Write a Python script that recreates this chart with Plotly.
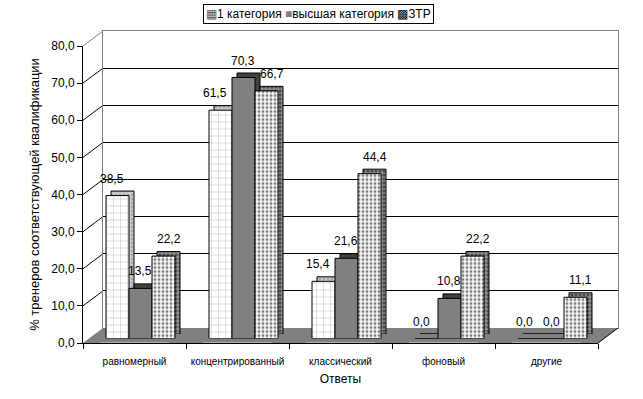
import plotly.graph_objects as go

categories = ["равномерный", "концентрированный", "классический", "фоновый", "другие"]
series_names = ["1 категория", "высшая категория", "ЗТР"]
cat1 = [38.5, 61.5, 15.4, 0.0, 0.0]
cat_high = [13.5, 70.3, 21.6, 10.8, 0.0]
ztr = [22.2, 66.7, 44.4, 22.2, 11.1]
series_values = [cat1, cat_high, ztr]
y_ticks = [0, 10, 20, 30, 40, 50, 60, 70, 80]

W, H = 643, 399
FONT = "Liberation Sans, Arial, sans-serif"

def fx(px):
    return px / W

def fy(py):
    return 1 - py / H

# front frame (px)
X0, X1, YB, YT = 83, 598, 343, 46
WDX, WDY = 20, 15          # wall depth offset
BDX, BDY = 6, 4.5          # bar front offset
DDX, DDY = 5, 4.5          # bar depth offset
YMAX = 80
BARGAP = 0.33

def dom(dx, dy):
    return dict(x=[fx(X0 + dx), fx(X1 + dx)], y=[fy(YB - dy), fy(YT - dy)])

front_styles = [
    dict(color="white", line=dict(color="black", width=1),
         pattern=dict(shape="+", fgcolor="#6a6a6a", bgcolor="white", size=7, solidity=0.12)),
    dict(color="#808080", line=dict(color="black", width=1)),
    dict(color="white", line=dict(color="black", width=1),
         pattern=dict(shape=".", fgcolor="black", bgcolor="white", size=4, solidity=0.45)),
]
depth_styles = [
    dict(color="#c0c0c0", line=dict(color="black", width=1),
         pattern=dict(shape=".", fgcolor="#808080", bgcolor="#c8c8c8", size=4, solidity=0.25)),
    dict(color="#404040", line=dict(color="black", width=1)),
    dict(color="#808080", line=dict(color="black", width=1),
         pattern=dict(shape=".", fgcolor="black", bgcolor="#909090", size=4, solidity=0.45)),
]

fig = go.Figure()

fig.add_trace(go.Bar(x=categories, y=[0] * len(categories), xaxis="x", yaxis="y",
                     showlegend=False, hoverinfo="skip", marker=dict(color="rgba(0,0,0,0)")))
fig.add_trace(go.Scatter(x=categories, y=[None] * len(categories), xaxis="x2", yaxis="y2",
                         showlegend=False, hoverinfo="skip", mode="markers"))

for name, vals, st in zip(series_names, series_values, depth_styles):
    fig.add_trace(go.Bar(x=categories, y=vals, name=name, xaxis="x3", yaxis="y3",
                         marker=st, showlegend=False, hoverinfo="skip"))
for name, vals, st in zip(series_names, series_values, front_styles):
    fig.add_trace(go.Bar(x=categories, y=vals, name=name, xaxis="x4", yaxis="y4",
                         marker=st, showlegend=False))

d_front = dom(0, 0)
d_wall = dom(WDX, WDY)
d_bar = dom(BDX, BDY)
d_depth = dom(BDX + DDX, BDY + DDY)

hidden_x = dict(visible=False, range=[-0.5, len(categories) - 0.5], fixedrange=True, automargin=False)
hidden_y = dict(visible=False, range=[0, YMAX], fixedrange=True, automargin=False)

fig.update_layout(
    width=W, height=H, autosize=False,
    margin=dict(l=0, r=0, t=0, b=0, autoexpand=False),
    paper_bgcolor="white", plot_bgcolor="rgba(0,0,0,0)",
    separators=", ",
    font=dict(family=FONT, size=12, color="black"),
    barmode="group", bargap=BARGAP, bargroupgap=0,
    xaxis=dict(domain=d_front["x"], range=[-0.5, len(categories) - 0.5], automargin=False,
               showline=True, linecolor="black", linewidth=1,
               ticks="outside", tickson="boundaries", ticklen=5, tickcolor="black",
               tickfont=dict(size=10), showgrid=False, ticklabelstandoff=9,
               title=dict(text="Ответы", font=dict(size=12), standoff=8)),
    yaxis=dict(domain=d_front["y"], range=[0, YMAX], tickvals=y_ticks, automargin=False,
               tickformat=".1f", showline=True, linecolor="black", linewidth=1,
               ticks="outside", ticklen=5, tickcolor="black", showgrid=False,
               zeroline=False, tickfont=dict(size=12),
               title=dict(text="% тренеров соответствующей квалификации",
                          font=dict(size=13), standoff=8)),
    xaxis2=dict(domain=d_wall["x"], anchor="y2", range=[-0.5, len(categories) - 0.5],
                showticklabels=False, ticks="", showgrid=False, automargin=False,
                showline=True, mirror=True, linecolor="#808080", linewidth=1),
    yaxis2=dict(domain=d_wall["y"], anchor="x2", range=[0, YMAX], automargin=False,
                tickvals=y_ticks[1:-1], showticklabels=False, ticks="",
                showgrid=True, gridcolor="black", gridwidth=1, zeroline=False,
                showline=True, mirror=True, linecolor="#808080", linewidth=1),
    xaxis3=dict(domain=d_depth["x"], anchor="y3", **hidden_x),
    yaxis3=dict(domain=d_depth["y"], anchor="x3", **hidden_y),
    xaxis4=dict(domain=d_bar["x"], anchor="y4", **hidden_x),
    yaxis4=dict(domain=d_bar["y"], anchor="x4", **hidden_y),
    showlegend=False,
)

# floor and left wall decoration derived from axis frame
shapes = []
shapes.append(dict(type="path", xref="paper", yref="paper", layer="below",
                   path=f"M {fx(X0)} {fy(YB)} L {fx(X0 + WDX)} {fy(YB - WDY)} "
                        f"L {fx(X1 + WDX)} {fy(YB - WDY)} L {fx(X1)} {fy(YB)} Z",
                   fillcolor="#808080", line=dict(width=0)))
shapes.append(dict(type="line", xref="paper", yref="paper",
                   x0=fx(X1), y0=fy(YB), x1=fx(X1 + WDX), y1=fy(YB - WDY),
                   line=dict(color="black", width=1)))
for v in y_ticks[1:]:
    yf = YB - (YB - YT) * v / YMAX
    shapes.append(dict(type="line", xref="paper", yref="paper", layer="below",
                       x0=fx(X0), y0=fy(yf), x1=fx(X0 + WDX), y1=fy(yf - WDY),
                       line=dict(color="#808080" if v == YMAX else "black", width=1)))
fig.update_layout(shapes=shapes)

# data labels
group_px = (X1 - X0) / len(categories) * (1 - BARGAP)
bar_px = group_px / len(series_names)
label_adjust = [-5, -1, 5]
annotations = []
for si, vals in enumerate(series_values):
    for ci, v in enumerate(vals):
        annotations.append(dict(
            x=categories[ci], y=v, xref="x4", yref="y4",
            text=f"{v:.1f}".replace(".", ","), showarrow=False,
            xshift=(si - 1) * bar_px + label_adjust[si], yshift=17,
            font=dict(size=12), yanchor="middle"))

# legend box (compact, Excel-style)
legend_symbols = [
    '<span style="color:#555555">▦</span>',
    '<span style="color:#808080">■</span>',
    '<span style="color:#000000">▩</span>',
]
legend_text = " ".join(f"{sym}{name}" for sym, name in zip(legend_symbols, series_names))
annotations.append(dict(
    x=fx(318), y=fy(4), xref="paper", yref="paper", xanchor="center", yanchor="top",
    text=legend_text, showarrow=False, font=dict(size=12),
    bordercolor="black", borderwidth=1, borderpad=2, bgcolor="white"))
fig.update_layout(annotations=annotations)

fig.write_html("out.html", config={"displayModeBar": False, "staticPlot": True},
               post_script="document.body.style.margin='0';document.body.style.padding='0';")
